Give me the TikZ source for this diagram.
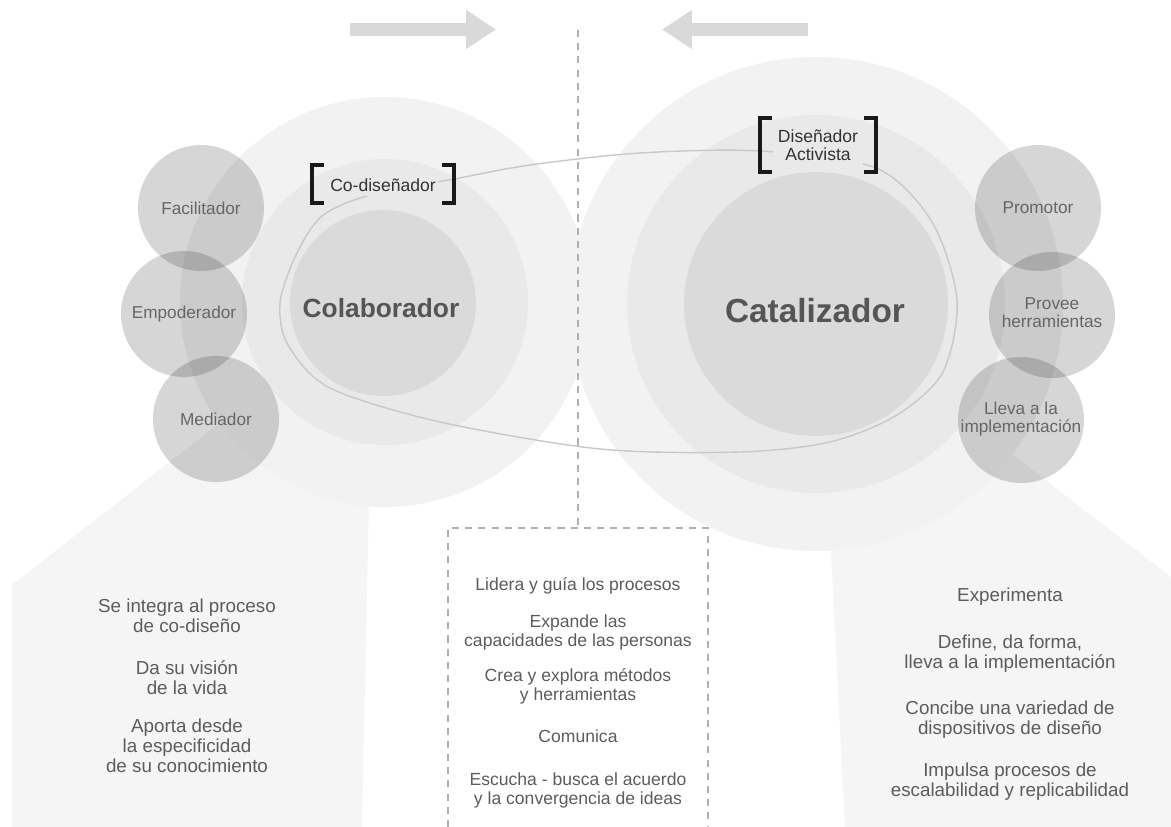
\documentclass[tikz,border=0pt]{standalone}
\usepackage{fontspec}
\setmainfont{Liberation Sans}
\usetikzlibrary{arrows.meta}

\definecolor{ringout}{HTML}{F2F2F2}
\definecolor{ringmid}{HTML}{E9E9E9}
\definecolor{ringcore}{HTML}{DADADA}
\definecolor{panelgray}{HTML}{F5F5F5}
\definecolor{arrowgray}{HTML}{D9D9D9}
\definecolor{linegray}{HTML}{C8C8C8}
\definecolor{dashgray}{HTML}{B0B0B0}
\definecolor{txtgray}{HTML}{5C5C5C}
\definecolor{lblgray}{HTML}{666666}
\definecolor{coregray}{HTML}{555555}

\newcommand{\grp}[1]{\begin{tabular}[t]{@{}c@{}}#1\end{tabular}}
\newcommand{\twoline}[1]{\begin{tabular}{@{}c@{}}#1\end{tabular}}

\tikzset{
  rolecirc/.style={circle, minimum size=2.52cm, inner sep=0pt, fill=black, fill opacity=0.16, text opacity=1, text=lblgray, font=\fontsize{9.8}{10.2}\selectfont},
  corecirc/.style={circle, inner sep=0pt, fill=ringcore},
  coretxt/.style={text=coregray, font=\bfseries\fontsize{15}{18}\selectfont},
  brklabel/.style={fill=ringmid, inner sep=0pt, text=black!80, font=\fontsize{10}{10.2}\selectfont},
  brk/.style={line width=2.3pt, black!90},
  sidetxt/.style={anchor=base, text=txtgray, font=\fontsize{10.7}{11.1}\selectfont},
  midtxt/.style={anchor=base, text=txtgray, font=\fontsize{10}{10.8}\selectfont},
  dashline/.style={dashgray, line width=0.6pt, dash pattern=on 4pt off 3.5pt},
  flow/.style={arrowgray, line width=7.4pt, -{Triangle[length=17pt, width=21pt]}}
}

\begin{document}
\begin{tikzpicture}[x=0.02cm, y=-0.02cm]

\useasboundingbox (0,0) rectangle (1171,827);
\fill[white] (0,0) rectangle (1171,827);

\coordinate (rarr0) at (350,29.5);
\coordinate (rarr1) at (496,29.5);
\coordinate (larr0) at (808,29.5);
\coordinate (larr1) at (662,29.5);
\draw[flow] (rarr0) -- (rarr1);
\draw[flow] (larr0) -- (larr1);


\fill[panelgray] (12,585) -- (230,415) -- (372,420) -- (370,447) -- (362,827) -- (12,827) -- cycle;
\fill[panelgray] (828,493) -- (830,430) -- (974,425) -- (1171,577) -- (1171,827) -- (845,827) -- cycle;


\fill[ringout] (385,302) circle [radius=205];
\fill[ringmid] (385,302) circle [radius=143];
\fill[ringout] (816,304) circle [radius=247];
\fill[ringmid] (816,304) circle [radius=189];

\node[corecirc, minimum size=3.72cm] (colab) at (383,303) {};
\node[corecirc, minimum size=5.28cm] (catal) at (816,304) {};


\draw[linegray, line width=0.8pt] plot[smooth cycle] coordinates {
  (454,179) (530,165) (640,153) (760,151) (876,168) (932,222) (957,300)
  (943,372) (897,415) (830,442) (740,452) (600,449) (440,422) (330,388)
  (288,345) (280,303) (296,255) (322,216) (370,195)};


\node[rolecirc] (facil) at (201,208) {Facilitador};
\node[rolecirc] (empod) at (184,314) {Empoderador};
\node[rolecirc] (media) at (216,419) {Mediador};

\node[rolecirc] (promo) at (1038,208) {Promotor};
\node[rolecirc] (provee) at (1052,315) {\twoline{Provee\\herramientas}};
\node[rolecirc] (lleva) at (1021,420) {\twoline{Lleva a la\\implementación}};


\coordinate (dtop) at (578,30);
\coordinate (dbot) at (578,528);
\draw[dashline] (dtop) -- (dbot);
\draw[dashline] (448,827) -- (448,528) -- (708,528) -- (708,827);


\node[brklabel, minimum width=2.2cm, minimum height=0.46cm] (codis) at (383,185) {Co-diseñador};
\draw[brk] (324,165) -- (312,165) -- (312,203) -- (324,203);
\draw[brk] (442,165) -- (454,165) -- (454,203) -- (442,203);

\node[brklabel, minimum width=1.8cm, minimum height=0.84cm] (disact) at (818,148) {\twoline{Diseñador\\Activista}};
\draw[brk] (772,118) -- (760,118) -- (760,172) -- (772,172);
\draw[brk] (864,118) -- (876,118) -- (876,172) -- (864,172);


\node[coretxt] (colabtxt) at (381,308) {Colaborador};
\node[coretxt, font=\bfseries\fontsize{19}{22}\selectfont] (cataltxt) at (815,311) {Catalizador};


\node[sidetxt] (colab1) at (187,613) {\grp{Se integra al proceso\\de co-diseño}};
\node[sidetxt] (colab2) at (187,675) {\grp{Da su visión\\de la vida}};
\node[sidetxt] (colab3) at (187,733) {\grp{Aporta desde\\la especificidad\\de su conocimiento}};

\node[midtxt] (ambos1) at (578,591) {\grp{Lidera y guía los procesos}};
\node[midtxt] (ambos2) at (578,628) {\grp{Expande las\\capacidades de las personas}};
\node[midtxt] (ambos3) at (578,682) {\grp{Crea y explora métodos\\y herramientas}};
\node[midtxt] (ambos4) at (578,743) {\grp{Comunica}};
\node[midtxt] (ambos5) at (578,786) {\grp{Escucha - busca el acuerdo\\y la convergencia de ideas}};

\node[sidetxt] (catal1) at (1010,602) {\grp{Experimenta}};
\node[sidetxt] (catal2) at (1010,649) {\grp{Define, da forma,\\lleva a la implementación}};
\node[sidetxt] (catal3) at (1010,715) {\grp{Concibe una variedad de\\dispositivos de diseño}};
\node[sidetxt] (catal4) at (1010,777) {\grp{Impulsa procesos de\\escalabilidad y replicabilidad}};

\end{tikzpicture}
\end{document}
